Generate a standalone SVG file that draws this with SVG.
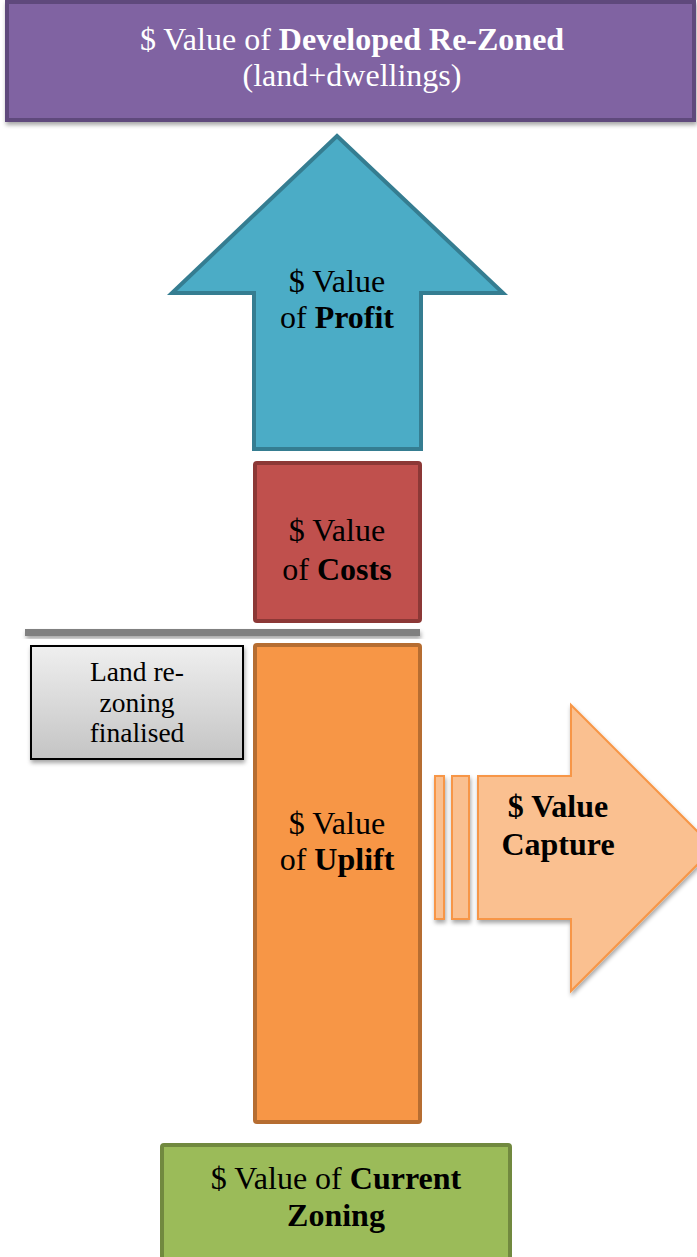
<svg xmlns="http://www.w3.org/2000/svg" width="697" height="1257" viewBox="0 0 697 1257">
<defs>
<linearGradient id="grayGrad" x1="0" y1="0" x2="0" y2="1">
<stop offset="0" stop-color="#efefef"/>
<stop offset="1" stop-color="#c4c4c4"/>
</linearGradient>
<filter id="shadow" x="-10%" y="-10%" width="130%" height="140%">
<feDropShadow dx="1" dy="3" stdDeviation="2" flood-color="#000" flood-opacity="0.35"/>
</filter>
</defs>
<style>
text{font-family:"Liberation Serif","Times New Roman",serif;text-anchor:middle}
.t28{font-size:32px}
.t24{font-size:27.5px}
.b{font-weight:bold}
.w{fill:#ffffff}
.k{fill:#000000}
</style>
<rect width="697" height="1257" fill="#ffffff"/>
<g id="developed">
<rect x="7" y="2" width="687" height="118" fill="#8064a2" stroke="#5f4a7b" stroke-width="4" filter="url(#shadow)"/>
<text x="352" y="50" class="t28 w">$ Value of <tspan class="b">Developed Re-Zoned</tspan></text>
<text x="352" y="86" class="t28 w">(land+dwellings)</text>
</g>
<g id="profit">
<polygon points="337,136 503,293 421,293 421,449 254,449 254,293 172,293" fill="#4bacc6" stroke="#357d91" stroke-width="4"/>
<text x="337" y="292" class="t28 k">$ Value</text>
<text x="337" y="328" class="t28 k">of <tspan class="b">Profit</tspan></text>
</g>
<g id="costs">
<rect x="255" y="463" width="165" height="158" rx="2" fill="#c0504d" stroke="#8c3836" stroke-width="4"/>
<text x="337" y="541" class="t28 k">$ Value</text>
<text x="337" y="580" class="t28 k">of <tspan class="b">Costs</tspan></text>
</g>
<g id="divider">
<rect x="25" y="629" width="395" height="7" fill="#808080" filter="url(#shadow)"/>
</g>
<g id="rezoning">
<rect x="31" y="646" width="212" height="113" fill="url(#grayGrad)" stroke="#000000" stroke-width="2" filter="url(#shadow)"/>
<text x="137" y="681" class="t24 k">Land re-</text>
<text x="137" y="712" class="t24 k">zoning</text>
<text x="137" y="742" class="t24 k">finalised</text>
</g>
<g id="uplift">
<rect x="255" y="645" width="165" height="477" rx="2" fill="#f79646" stroke="#b66d31" stroke-width="4"/>
<text x="337" y="834" class="t28 k">$ Value</text>
<text x="337" y="870" class="t28 k">of <tspan class="b">Uplift</tspan></text>
</g>
<g id="capture">
<g filter="url(#shadow)">
<rect x="435" y="776" width="9" height="143" fill="#fac090" stroke="#f79646" stroke-width="2"/>
<rect x="452" y="776" width="17" height="143" fill="#fac090" stroke="#f79646" stroke-width="2"/>
<polygon points="478,776 571,776 571,705 714,848 571,991 571,919 478,919" fill="#fac090" stroke="#f79646" stroke-width="2"/>
</g>
<text x="558" y="817" class="t28 k b">$ Value</text>
<text x="558" y="855" class="t28 k b">Capture</text>
</g>
<g id="current">
<rect x="162" y="1145" width="348" height="116" rx="2" fill="#9bbb59" stroke="#71893f" stroke-width="4"/>
<text x="336" y="1189" class="t28 k">$ Value of <tspan class="b">Current</tspan></text>
<text x="336" y="1226" class="t28 k b">Zoning</text>
</g>
<g id="connectors"></g>
</svg>
